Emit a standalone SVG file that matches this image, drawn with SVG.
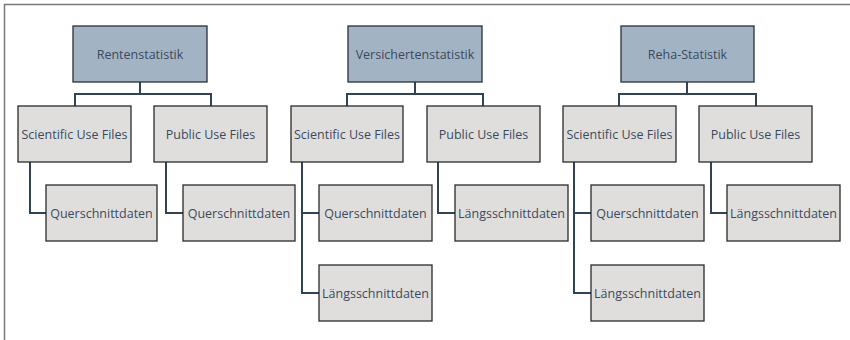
<svg xmlns="http://www.w3.org/2000/svg" width="850" height="340" viewBox="0 0 850 340">
<style>
.frame{stroke:#7a7a7a;stroke-width:1.5;fill:none}
.top{fill:#a2b3c3;stroke:#2a2f36;stroke-width:1.3}
.box{fill:#e0dedc;stroke:#2a2a2a;stroke-width:1.3}
.lbl{font-family:"Open Sans","Liberation Sans",sans-serif;font-size:12.5px;fill:#3a4a5e;text-anchor:middle;dominant-baseline:central}
.con{stroke:#2f4256;stroke-width:2;fill:none}
</style>
<rect width="850" height="340" fill="#ffffff"/>
<path class="frame" d="M4.5 340 V4.5 H850"/>
<g id="connectors">
<path class="con" d="M140 82 V94 M75 106 V94 H211 V106"/>
<path class="con" d="M30 162 V213 H46"/>
<path class="con" d="M166 162 V213 H183"/>
<path class="con" d="M415 82 V94 M347 106 V94 H483 V106"/>
<path class="con" d="M302 162 V293 H319 M302 213 H319"/>
<path class="con" d="M438 162 V213 H455"/>
<path class="con" d="M687 82 V94 M619 106 V94 H756 V106"/>
<path class="con" d="M574 162 V293 H591 M574 213 H591"/>
<path class="con" d="M711 162 V213 H727"/>
</g>
<g id="rentenstatistik"><rect class="top" x="73" y="26" width="134" height="56"/><text class="lbl" x="140" y="54">Rentenstatistik</text></g>
<g id="r-suf"><rect class="box" x="18" y="106" width="113" height="56"/><text class="lbl" x="74.5" y="134">Scientific Use Files</text></g>
<g id="r-puf"><rect class="box" x="154" y="106" width="113" height="56"/><text class="lbl" x="210.5" y="134">Public Use Files</text></g>
<g id="r-suf-q"><rect class="box" x="46" y="185" width="111" height="56"/><text class="lbl" x="101.5" y="213">Querschnittdaten</text></g>
<g id="r-puf-q"><rect class="box" x="183" y="185" width="112" height="56"/><text class="lbl" x="239" y="213">Querschnittdaten</text></g>

<g id="versichertenstatistik"><rect class="top" x="348" y="26" width="134" height="56"/><text class="lbl" x="415" y="54">Versichertenstatistik</text></g>
<g id="v-suf"><rect class="box" x="291" y="106" width="112" height="56"/><text class="lbl" x="347" y="134">Scientific Use Files</text></g>
<g id="v-puf"><rect class="box" x="427" y="106" width="113" height="56"/><text class="lbl" x="483.5" y="134">Public Use Files</text></g>
<g id="v-suf-q"><rect class="box" x="319" y="185" width="113" height="56"/><text class="lbl" x="375.5" y="213">Querschnittdaten</text></g>
<g id="v-suf-l"><rect class="box" x="319" y="265" width="113" height="56"/><text class="lbl" x="375.5" y="293">Längsschnittdaten</text></g>
<g id="v-puf-l"><rect class="box" x="455" y="185" width="113" height="56"/><text class="lbl" x="511.5" y="213">Längsschnittdaten</text></g>

<g id="reha-statistik"><rect class="top" x="621" y="26" width="133" height="56"/><text class="lbl" x="687.5" y="54">Reha-Statistik</text></g>
<g id="h-suf"><rect class="box" x="563" y="106" width="113" height="56"/><text class="lbl" x="619.5" y="134">Scientific Use Files</text></g>
<g id="h-puf"><rect class="box" x="699" y="106" width="113" height="56"/><text class="lbl" x="755.5" y="134">Public Use Files</text></g>
<g id="h-suf-q"><rect class="box" x="591" y="185" width="113" height="56"/><text class="lbl" x="647.5" y="213">Querschnittdaten</text></g>
<g id="h-suf-l"><rect class="box" x="591" y="265" width="113" height="56"/><text class="lbl" x="647.5" y="293">Längsschnittdaten</text></g>
<g id="h-puf-l"><rect class="box" x="727" y="185" width="113" height="56"/><text class="lbl" x="783.5" y="213">Längsschnittdaten</text></g>
</svg>
